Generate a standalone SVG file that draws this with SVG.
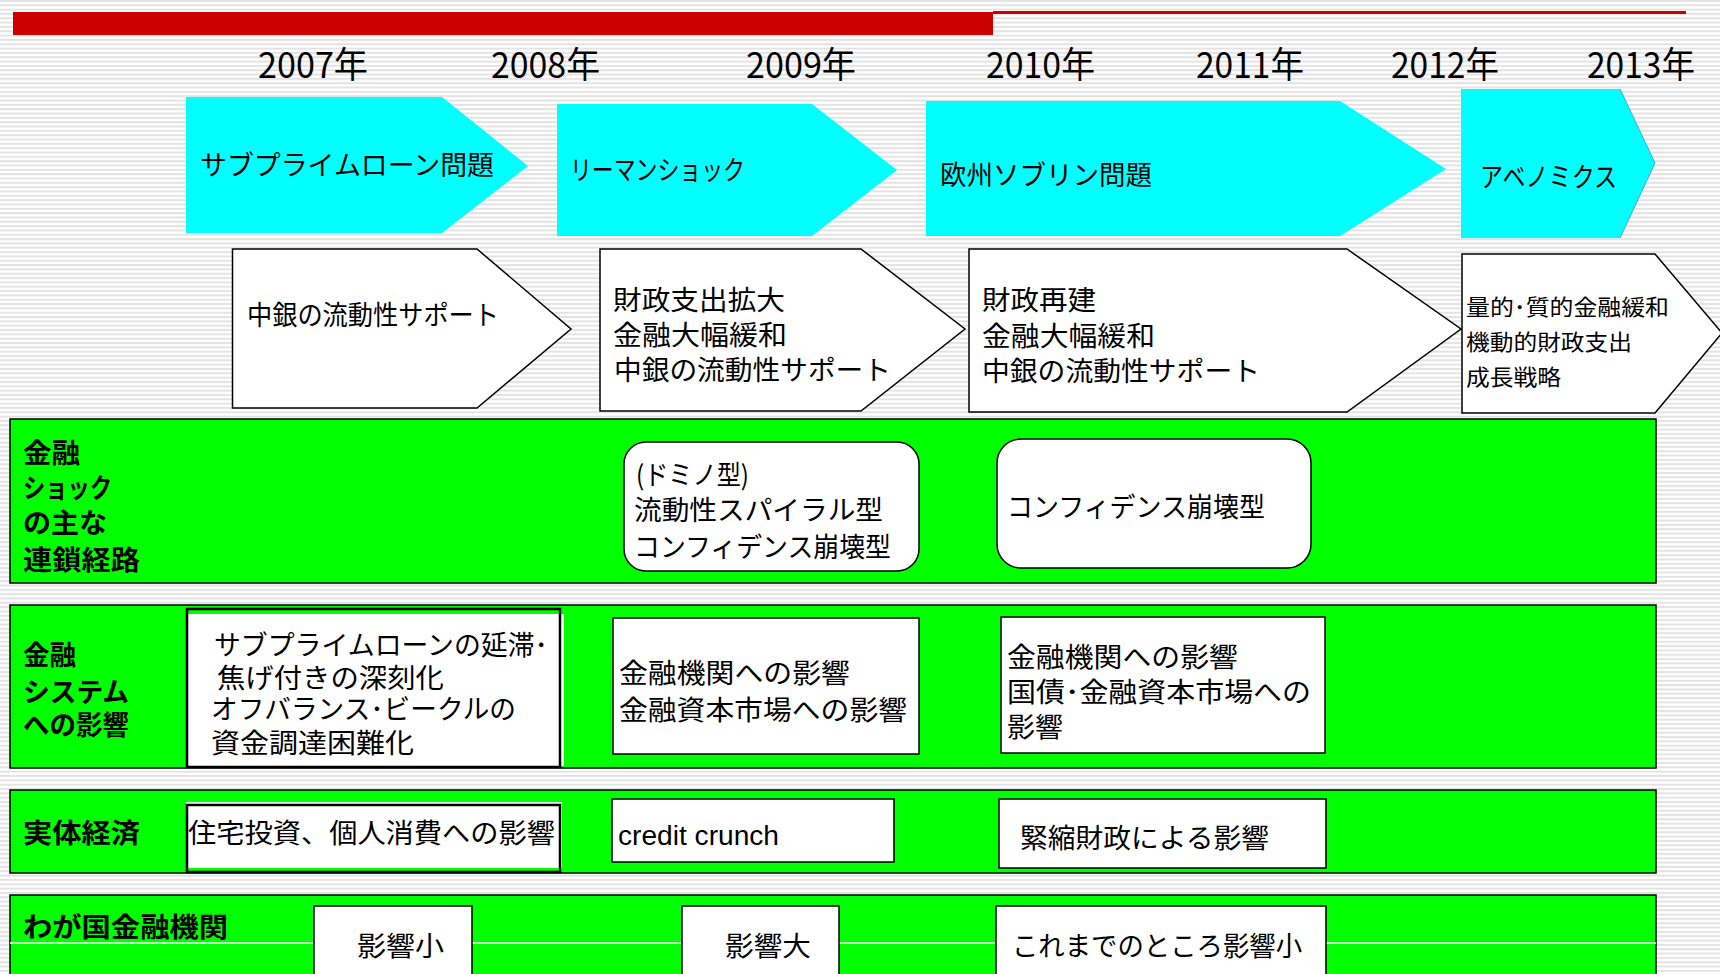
<svg xmlns="http://www.w3.org/2000/svg" width="1720" height="974" viewBox="0 0 1720 974">
<defs>
<pattern id="stripes" x="0" y="0" width="20" height="4.33" patternUnits="userSpaceOnUse">
<rect x="0" y="0" width="20" height="4.33" fill="#ffffff"/>
<rect x="0" y="0" width="20" height="1.9" fill="#e2e2e2"/>
</pattern>
<style>
text{font-family:"Noto Sans CJK JP","Noto Sans",sans-serif;fill:#000;dominant-baseline:central}
.yr{font-size:36px}
.t{font-size:27px}
.s{font-size:22px}
.b{font-size:27px;font-weight:bold}
.lat{font-family:"Liberation Sans","Noto Sans",sans-serif;font-size:27px}
.cyan{fill:#00ffff;stroke:none}
.pent{fill:#ffffff;stroke:#000;stroke-width:1.5}
.band{fill:#00ff00;stroke:#000;stroke-width:1.5}
.box{fill:#ffffff;stroke:#000;stroke-width:1.5}
.boxk{fill:none;stroke:#000;stroke-width:2.5}
</style>
</defs>
<rect x="0" y="0" width="1720" height="974" fill="url(#stripes)"/>
<g id="title-bar">
<rect x="13" y="12" width="980" height="23" fill="#cc0000"/>
<rect x="993" y="11" width="693" height="3" fill="#cc0000"/>
</g>
<g id="years">
<text class="yr" x="258" y="62" textLength="110" lengthAdjust="spacingAndGlyphs">2007年</text>
<text class="yr" x="491" y="62" textLength="109" lengthAdjust="spacingAndGlyphs">2008年</text>
<text class="yr" x="746" y="62" textLength="110" lengthAdjust="spacingAndGlyphs">2009年</text>
<text class="yr" x="986" y="62" textLength="109" lengthAdjust="spacingAndGlyphs">2010年</text>
<text class="yr" x="1196" y="62" textLength="108" lengthAdjust="spacingAndGlyphs">2011年</text>
<text class="yr" x="1391" y="62" textLength="108" lengthAdjust="spacingAndGlyphs">2012年</text>
<text class="yr" x="1587" y="62" textLength="108" lengthAdjust="spacingAndGlyphs">2013年</text>
</g>
<g id="event-subprime">
<polygon class="cyan" points="186,97 442,97 528,166 442,233 186,233"/>
<text class="t" x="200" y="163" textLength="294" lengthAdjust="spacingAndGlyphs">サブプライムローン問題</text>
</g>
<g id="event-lehman">
<polygon class="cyan" points="557,104 812,104 897,170 812,236 557,236"/>
<text class="t" x="570" y="168" textLength="175" lengthAdjust="spacingAndGlyphs">リーマンショック</text>
</g>
<g id="event-euro">
<polygon class="cyan" points="926,101 1340,101 1446,169 1340,236 926,236"/>
<text class="t" x="940" y="173" textLength="212" lengthAdjust="spacingAndGlyphs">欧州ソブリン問題</text>
</g>
<g id="event-abenomics">
<polygon class="cyan" points="1461,89 1620,89 1655,163 1620,238 1461,238"/>
<line x1="1620" y1="89" x2="1655" y2="163" stroke="#3fa9d8" stroke-width="1"/>
<line x1="1655" y1="163" x2="1620" y2="238" stroke="#3fa9d8" stroke-width="1"/>
<text class="t" x="1480" y="175" textLength="137" lengthAdjust="spacingAndGlyphs">アベノミクス</text>
</g>
<g id="policy-1">
<polygon class="pent" points="232.5,249 477,249 571,329 477,408 232.5,408"/>
<text class="t" x="247" y="313" textLength="252" lengthAdjust="spacingAndGlyphs">中銀の流動性サポート</text>
</g>
<g id="policy-2">
<polygon class="pent" points="600,249 861,249 965,329 861,411 600,411"/>
<text class="t" x="613" y="298" textLength="172" lengthAdjust="spacingAndGlyphs">財政支出拡大</text>
<text class="t" x="613" y="333" textLength="174" lengthAdjust="spacingAndGlyphs">金融大幅緩和</text>
<text class="t" x="614" y="368" textLength="277" lengthAdjust="spacingAndGlyphs">中銀の流動性サポート</text>
</g>
<g id="policy-3">
<polygon class="pent" points="969,249 1347,249 1461,329 1347,412 969,412"/>
<text class="t" x="982" y="298" textLength="114" lengthAdjust="spacingAndGlyphs">財政再建</text>
<text class="t" x="982" y="334" textLength="173" lengthAdjust="spacingAndGlyphs">金融大幅緩和</text>
<text class="t" x="982" y="369" textLength="278" lengthAdjust="spacingAndGlyphs">中銀の流動性サポート</text>
</g>
<g id="policy-4">
<polygon class="pent" points="1462,254 1655,254 1722,333 1655,413 1462,413"/>
<text class="s" x="1466" y="305" textLength="203" lengthAdjust="spacingAndGlyphs">量的･質的金融緩和</text>
<text class="s" x="1466" y="340" textLength="166" lengthAdjust="spacingAndGlyphs">機動的財政支出</text>
<text class="s" x="1466" y="375" textLength="95" lengthAdjust="spacingAndGlyphs">成長戦略</text>
</g>
<g id="band-shock">
<rect class="band" x="10" y="419" width="1646" height="164"/>
<text class="b" x="23" y="451" textLength="57" lengthAdjust="spacingAndGlyphs">金融</text>
<text class="b" x="23" y="486" textLength="89" lengthAdjust="spacingAndGlyphs">ショック</text>
<text class="b" x="23" y="521" textLength="84" lengthAdjust="spacingAndGlyphs">の主な</text>
<text class="b" x="23" y="558" textLength="117" lengthAdjust="spacingAndGlyphs">連鎖経路</text>
</g>
<g id="shock-1">
<rect class="box" x="624" y="442" width="295" height="129" rx="22" ry="22"/>
<text class="t" x="636" y="473" textLength="113" lengthAdjust="spacingAndGlyphs">(ドミノ型)</text>
<text class="t" x="634" y="508" textLength="249" lengthAdjust="spacingAndGlyphs">流動性スパイラル型</text>
<text class="t" x="634" y="545" textLength="257" lengthAdjust="spacingAndGlyphs">コンフィデンス崩壊型</text>
</g>
<g id="shock-2">
<rect class="box" x="997" y="439" width="314" height="129" rx="24" ry="24"/>
<text class="t" x="1007" y="505" textLength="258" lengthAdjust="spacingAndGlyphs">コンフィデンス崩壊型</text>
</g>
<g id="band-system">
<rect class="band" x="10" y="605" width="1646" height="163"/>
<text class="b" x="23" y="653" textLength="53" lengthAdjust="spacingAndGlyphs">金融</text>
<text class="b" x="23" y="690" textLength="106" lengthAdjust="spacingAndGlyphs">システム</text>
<text class="b" x="23" y="723" textLength="106" lengthAdjust="spacingAndGlyphs">への影響</text>
</g>
<g id="system-1">
<rect x="188" y="614" width="376" height="152" fill="#ffffff"/>
<rect class="boxk" x="187" y="609" width="373" height="158"/>
<text class="t" x="214" y="643" textLength="334" lengthAdjust="spacingAndGlyphs">サブプライムローンの延滞･</text>
<text class="t" x="217" y="676" textLength="227" lengthAdjust="spacingAndGlyphs">焦げ付きの深刻化</text>
<text class="t" x="211" y="707" textLength="305" lengthAdjust="spacingAndGlyphs">オフバランス･ビークルの</text>
<text class="t" x="211" y="741" textLength="203" lengthAdjust="spacingAndGlyphs">資金調達困難化</text>
</g>
<g id="system-2">
<rect class="box" x="613" y="618" width="306" height="136"/>
<text class="t" x="619" y="671" textLength="231" lengthAdjust="spacingAndGlyphs">金融機関への影響</text>
<text class="t" x="619" y="708" textLength="288" lengthAdjust="spacingAndGlyphs">金融資本市場への影響</text>
</g>
<g id="system-3">
<rect class="box" x="1001" y="617" width="324" height="136"/>
<text class="t" x="1007" y="655" textLength="231" lengthAdjust="spacingAndGlyphs">金融機関への影響</text>
<text class="t" x="1007" y="690" textLength="304" lengthAdjust="spacingAndGlyphs">国債･金融資本市場への</text>
<text class="t" x="1007" y="725" textLength="56" lengthAdjust="spacingAndGlyphs">影響</text>
</g>
<g id="band-economy">
<rect class="band" x="10" y="790" width="1646" height="83"/>
<text class="b" x="23" y="831" textLength="117" lengthAdjust="spacingAndGlyphs">実体経済</text>
</g>
<g id="economy-1">
<rect x="186" y="802" width="376" height="66" fill="#ffffff"/>
<rect class="boxk" x="187" y="805" width="373" height="67"/>
<text class="t" x="188" y="831" textLength="367" lengthAdjust="spacingAndGlyphs">住宅投資、個人消費への影響</text>
</g>
<g id="economy-2">
<rect class="box" x="612" y="799" width="282" height="63"/>
<text class="lat" x="618" y="836" textLength="161" lengthAdjust="spacingAndGlyphs">credit crunch</text>
</g>
<g id="economy-3">
<rect class="box" x="999" y="799" width="327" height="69"/>
<text class="t" x="1020" y="836" textLength="249" lengthAdjust="spacingAndGlyphs">緊縮財政による影響</text>
</g>
<g id="band-japan">
<rect class="band" x="10" y="895" width="1646" height="85"/>
<line x1="10" y1="943" x2="1656" y2="943" stroke="#ffffff" stroke-width="1.5"/>
<text class="b" x="23" y="925" textLength="205" lengthAdjust="spacingAndGlyphs">わが国金融機関</text>
</g>
<g id="japan-1">
<rect class="box" x="314" y="906" width="158" height="76"/>
<text class="t" x="357" y="944" textLength="87" lengthAdjust="spacingAndGlyphs">影響小</text>
</g>
<g id="japan-2">
<rect class="box" x="682" y="906" width="157" height="76"/>
<text class="t" x="725" y="944" textLength="86" lengthAdjust="spacingAndGlyphs">影響大</text>
</g>
<g id="japan-3">
<rect class="box" x="996" y="906" width="330" height="76"/>
<text class="t" x="1012" y="944" textLength="290" lengthAdjust="spacingAndGlyphs">これまでのところ影響小</text>
</g>
<g id="connectors"></g>
</svg>
